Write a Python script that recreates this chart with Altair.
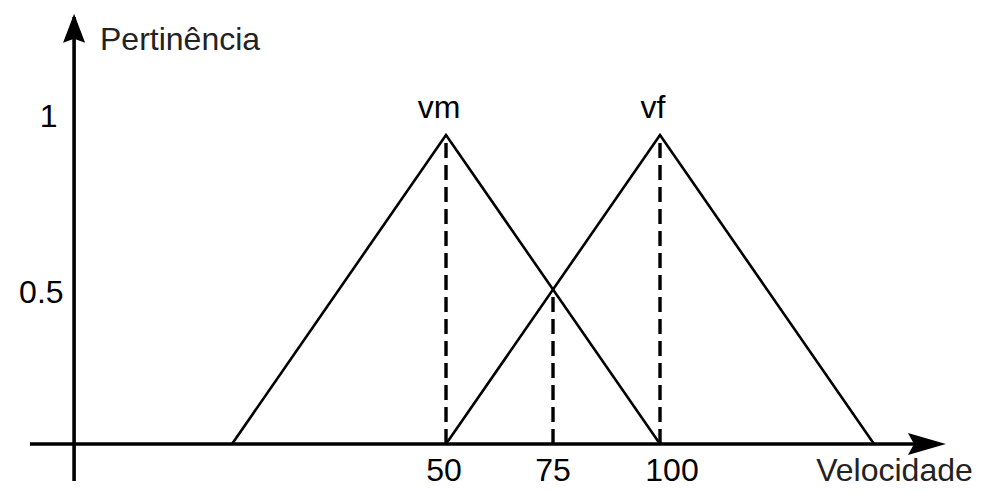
import altair as alt
import pandas as pd

# ---------------- data ----------------
set_names = ["vm", "vf"]
vm_speed = [0, 50, 100]
vm_member = [0, 1, 0]
vf_speed = [50, 100, 150]
vf_member = [0, 1, 0]
peak_speed = [50, 100]
peak_member = [1, 1]
guide_speed = [50, 75, 100]
guide_member = [1, 0.5, 1]
x_tick_values = [50, 75, 100]
x_tick_labels = ["50", "75", "100"]
y_tick_values = [1, 0.5]
y_tick_labels = ["1", "0.5"]
x_title = "Velocidade"
y_title = "Pertinência"

# ---------------- layout / style ----------------
FONT = "Liberation Sans"
FS = 32
W, H = 971, 477
X_DOM = [-52.34, 174.53]
Y_DOM = [-0.1327, 1.411]
AX_X = -36.9          # where the vertical axis stands (x units)
X_AX_START, X_AX_TIP = -47.2, 166.8
Y_AX_START, Y_AX_TIP = -0.12, 1.392
X_LABEL_Y = -0.121
X_LABEL_DX = [-2, 0, 12]
Y_LABEL_DX = [-16.5, -10.5]
Y_LABEL_DY = [-8, 13.5]

xs = alt.Scale(domain=X_DOM, nice=False, zero=False)
ys = alt.Scale(domain=Y_DOM, nice=False, zero=False)


def X(f):
    return alt.X(f, type="quantitative", scale=xs, axis=None)


def Y(f):
    return alt.Y(f, type="quantitative", scale=ys, axis=None)


tri = pd.DataFrame({
    "set": [set_names[0]] * 3 + [set_names[1]] * 3,
    "speed": vm_speed + vf_speed,
    "member": vm_member + vf_member,
    "order": [0, 1, 2, 0, 1, 2],
})

lines = alt.Chart(tri).mark_line(color="black", strokeWidth=2.6).encode(
    x=X("speed"), y=Y("member"), detail="set:N", order="order:Q"
)

guides = alt.Chart(pd.DataFrame({"speed": guide_speed, "member": guide_member, "zero": [0] * 3})).mark_rule(
    color="black", strokeWidth=3.4, strokeDash=[15, 7]
).encode(x=X("speed"), y=Y("zero"), y2="member")

x_axis = alt.Chart(pd.DataFrame({"a": [X_AX_START], "b": [X_AX_TIP - 3], "y": [0]})).mark_rule(
    color="black", strokeWidth=3.6
).encode(x=X("a"), x2="b", y=Y("y"))

y_axis = alt.Chart(pd.DataFrame({"x": [AX_X], "a": [Y_AX_START], "b": [Y_AX_TIP - 0.01]})).mark_rule(
    color="black", strokeWidth=3.6
).encode(x=X("x"), y=Y("a"), y2="b")

arrow_right = alt.Chart(pd.DataFrame({"x": [X_AX_TIP], "y": [0]})).mark_point(
    shape="M0,0 L-1,-0.29 L-0.84,0 L-1,0.29 Z", size=5776, filled=True, opacity=1,
    color="black", strokeWidth=0
).encode(x=X("x"), y=Y("y"))

arrow_up = alt.Chart(pd.DataFrame({"x": [AX_X], "y": [Y_AX_TIP]})).mark_point(
    shape="M0,0 L-0.38,1 L0,0.86 L0.38,1 Z", size=3364, filled=True, opacity=1,
    color="black", strokeWidth=0
).encode(x=X("x"), y=Y("y"))

layers = [lines, guides, x_axis, y_axis, arrow_right, arrow_up]

# set names above peaks
names = alt.Chart(pd.DataFrame({"speed": peak_speed, "member": peak_member, "name": set_names})).mark_text(
    font=FONT, fontSize=FS, color="black", baseline="alphabetic", align="center", dx=-7, dy=-17
).encode(x=X("speed"), y=Y("member"), text="name:N")
layers.append(names)

# x tick labels
for v, lab, dx in zip(x_tick_values, x_tick_labels, X_LABEL_DX):
    layers.append(
        alt.Chart(pd.DataFrame({"v": [v], "y": [X_LABEL_Y], "t": [lab]})).mark_text(
            font=FONT, fontSize=FS, color="black", baseline="alphabetic", align="center", dx=dx
        ).encode(x=X("v"), y=Y("y"), text="t:N")
    )

# y tick labels
for v, lab, dx, dy in zip(y_tick_values, y_tick_labels, Y_LABEL_DX, Y_LABEL_DY):
    layers.append(
        alt.Chart(pd.DataFrame({"x": [AX_X], "v": [v], "t": [lab]})).mark_text(
            font=FONT, fontSize=FS, color="black", baseline="alphabetic", align="right", dx=dx, dy=dy
        ).encode(x=X("x"), y=Y("v"), text="t:N")
    )

# axis titles
layers.append(
    alt.Chart(pd.DataFrame({"x": [-30.84], "y": [1.275], "t": [y_title]})).mark_text(
        font=FONT, fontSize=FS, color="#222222", baseline="alphabetic", align="left"
    ).encode(x=X("x"), y=Y("y"), text="t:N")
)
layers.append(
    alt.Chart(pd.DataFrame({"x": [136.5], "y": [-0.121], "t": [x_title]})).mark_text(
        font=FONT, fontSize=32, color="#222222", baseline="alphabetic", align="left"
    ).encode(x=X("x"), y=Y("y"), text="t:N")
)

chart = alt.layer(*layers).properties(
    width=W, height=H, autosize=alt.AutoSizeParams(type="none"), padding=0,
    background="white"
).configure_view(stroke=None, strokeWidth=0)

chart.save("out.html", embed_options={"renderer": "svg", "actions": False})
